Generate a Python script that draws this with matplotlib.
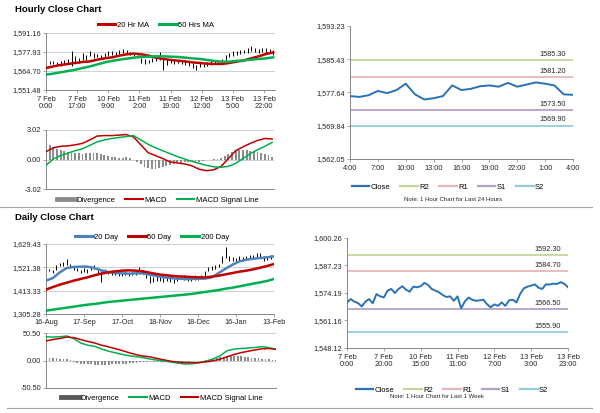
import matplotlib
matplotlib.use("Agg")
import matplotlib.pyplot as plt
from matplotlib.lines import Line2D
from matplotlib.ticker import FuncFormatter
import numpy as np

plt.rcParams["font.family"] = ["Liberation Sans", "DejaVu Sans"]

W, H = 600, 413

# ---- hourly chart, 7 Feb - 14 Feb (bars every 2 hours, lines every 4 hours)
hourly_ticks = ["7 Feb\n0:00", "7 Feb\n17:00", "10 Feb\n9:00", "11 Feb\n2:00",
                "11 Feb\n19:00", "12 Feb\n12:00", "13 Feb\n5:00", "13 Feb\n22:00"]
hourly_high = [1572.6, 1571.9, 1571.4, 1570.7, 1571.9, 1572.6, 1573.1, 1578.4, 1574.9, 1573.8,
               1577.2, 1576.1, 1578.4, 1577.2, 1576.8, 1576.1, 1577.2, 1578.4, 1578.4, 1577.7,
               1579.1, 1580.3, 1579.6, 1577.9, 1577.2, 1576.1, 1573.8, 1573.1, 1572.6, 1573.8,
               1574.5, 1577.9, 1573.8, 1573.1, 1572.6, 1572.1, 1572.6, 1571.9, 1571.4, 1570.7,
               1570.3, 1569.1, 1570.3, 1569.8, 1570.7, 1571.4, 1571.9, 1571.4, 1573.1, 1576.1,
               1577.2, 1578.4, 1578.4, 1579.1, 1579.6, 1580.7, 1581.9, 1580.7, 1580.0, 1580.7,
               1580.7, 1580.0, 1579.1]
hourly_low = [1569.1, 1569.8, 1569.6, 1568.0, 1568.4, 1569.8, 1570.3, 1568.0, 1570.3, 1570.3,
              1572.6, 1572.6, 1574.9, 1573.8, 1574.5, 1573.1, 1574.5, 1575.4, 1576.1, 1575.6,
              1576.5, 1577.2, 1576.8, 1575.8, 1575.4, 1574.5, 1570.3, 1569.8, 1570.3, 1570.7,
              1571.4, 1572.6, 1565.2, 1569.1, 1570.3, 1569.8, 1570.3, 1569.6, 1569.1, 1568.4,
              1566.8, 1565.2, 1567.5, 1567.3, 1568.4, 1569.1, 1569.8, 1569.8, 1570.3, 1572.6,
              1574.5, 1575.4, 1576.1, 1576.8, 1577.2, 1577.2, 1578.4, 1577.7, 1577.2, 1577.7,
              1577.2, 1577.2, 1576.1]
hourly_ma20 = [1566.8, 1567.9, 1568.9, 1569.6, 1570.3, 1571.0, 1571.4, 1572.6, 1573.5, 1574.2,
               1575.4, 1576.3, 1576.8, 1576.3, 1575.4, 1574.0, 1573.1, 1572.4, 1571.9, 1571.4,
               1570.7, 1570.3, 1569.8, 1569.6, 1569.6, 1570.3, 1571.2, 1572.1, 1573.5, 1574.9,
               1576.5, 1577.7]
hourly_ma50 = [1562.2, 1562.9, 1563.8, 1564.7, 1565.6, 1566.8, 1567.9, 1569.3, 1570.7, 1571.7,
               1572.6, 1573.3, 1574.0, 1574.5, 1574.7, 1574.9, 1574.9, 1574.7, 1574.5, 1574.0,
               1573.5, 1573.1, 1572.4, 1571.7, 1571.2, 1571.2, 1571.7, 1572.1, 1572.6, 1573.1,
               1573.5, 1574.2]
hourly_div = [1.5, 1.5, 1.3, 1.1, 1.0, 0.9, 0.8, 0.7, 0.7, 0.65,
              0.6, 0.65, 0.7, 0.7, 0.65, 0.55, 0.45, 0.35, 0.3, 0.25,
              0.2, 0.2, 0.25, 0.15, 0.0, -0.25, -0.5, -0.75, -0.9, -1.0,
              -0.95, -0.85, -0.75, -0.65, -0.55, -0.45, -0.4, -0.35, -0.3, -0.25,
              -0.25, -0.3, -0.3, -0.2, -0.1, 0.0, 0.05, 0.1, 0.2, 0.4,
              0.6, 0.8, 0.9, 1.0, 1.0, 0.95, 0.9, 0.85, 0.8, 0.7,
              0.6, 0.5, 0.3]
hourly_macd = [0.8, 1.2, 1.35, 1.4, 1.5, 1.65, 2.0, 2.4, 2.45, 2.45,
               2.5, 2.55, 2.3, 1.5, 0.7, 0.4, 0.1, -0.25, -0.35, -0.45,
               -0.65, -1.0, -1.15, -1.05, -0.7, 0.1, 0.9, 1.3, 1.65, 1.95,
               2.15, 2.1]
hourly_signal = [-0.6, 0.05, 0.4, 0.65, 0.9, 1.1, 1.45, 1.8, 2.0, 2.15,
                 2.25, 2.35, 2.45, 2.0, 1.55, 1.2, 0.9, 0.6, 0.3, 0.05,
                 -0.2, -0.4, -0.6, -0.75, -0.8, -0.7, -0.4, 0.1, 0.6, 1.0,
                 1.35, 1.75]

# ---- last 24 hours
day_ticks = ["4:00", "7:00", "10:00", "13:00", "16:00", "19:00", "22:00", "1:00", "4:00"]
day_close = [1576.8, 1576.6, 1577.0, 1578.0, 1577.5, 1578.2, 1579.7, 1577.2, 1576.0, 1576.3,
             1576.8, 1579.3, 1578.2, 1578.5, 1579.1, 1579.3, 1579.0, 1579.9, 1579.0, 1579.5,
             1580.0, 1579.7, 1579.3, 1577.2, 1577.1]
day_levels = {"R2": 1585.30, "R1": 1581.20, "S1": 1573.50, "S2": 1569.90}

# ---- daily chart, 16 Aug - 13 Feb (bars every 2 days, lines every 4 days)
daily_ticks = ["16-Aug", "17-Sep", "17-Oct", "18-Nov", "18-Dec", "16-Jan", "13-Feb"]
daily_high = [1529.1, 1515.2, 1510.6, 1533.7, 1541.4, 1546.1, 1561.5, 1536.8, 1526.0, 1518.3,
              1510.6, 1518.3, 1515.2, 1526.0, 1530.6, 1510.6, 1502.9, 1515.2, 1505.9, 1502.9,
              1502.9, 1499.8, 1495.1, 1502.9, 1495.1, 1499.8, 1502.9, 1521.4, 1510.6, 1495.1,
              1479.7, 1475.1, 1479.7, 1475.1, 1472.0, 1479.7, 1475.1, 1468.9, 1479.7, 1487.4,
              1484.3, 1479.7, 1475.1, 1484.3, 1479.7, 1487.4, 1502.9, 1521.4, 1526.0, 1530.6,
              1536.8, 1572.3, 1614.0, 1572.3, 1567.7, 1564.6, 1572.3, 1567.7, 1572.3, 1580.0,
              1577.0, 1587.8, 1587.8, 1572.3, 1572.3, 1577.0, 1577.0]
daily_low = [1510.6, 1502.9, 1495.1, 1510.6, 1526.0, 1526.0, 1533.7, 1518.3, 1510.6, 1502.9,
             1495.1, 1499.8, 1495.1, 1510.6, 1515.2, 1490.5, 1453.5, 1495.1, 1490.5, 1487.4,
             1484.3, 1479.7, 1479.7, 1484.3, 1479.7, 1484.3, 1487.4, 1499.8, 1490.5, 1472.0,
             1448.8, 1453.5, 1459.6, 1456.5, 1453.5, 1459.6, 1453.5, 1448.8, 1459.6, 1468.9,
             1464.3, 1459.6, 1459.6, 1464.3, 1464.3, 1472.0, 1479.7, 1502.9, 1510.6, 1515.2,
             1521.4, 1541.4, 1564.6, 1552.3, 1549.2, 1549.2, 1552.3, 1552.3, 1556.9, 1561.5,
             1561.5, 1567.7, 1564.6, 1552.3, 1556.9, 1561.5, 1564.6]
daily_ma20 = [1459.6, 1472.0, 1498.2, 1518.3, 1522.9, 1524.5, 1524.5, 1518.3, 1507.5, 1499.8,
              1495.1, 1493.6, 1492.1, 1493.6, 1493.6, 1487.4, 1481.2, 1475.1, 1472.0, 1468.9,
              1467.4, 1467.4, 1468.9, 1468.9, 1475.1, 1495.1, 1515.2, 1533.7, 1549.2, 1556.9,
              1561.5, 1564.6, 1567.7, 1572.3]
daily_ma50 = [1418.0, 1430.3, 1441.1, 1450.4, 1459.6, 1467.4, 1475.1, 1484.3, 1492.1, 1498.2,
              1502.9, 1505.9, 1507.5, 1505.9, 1502.9, 1496.7, 1490.5, 1485.9, 1482.8, 1479.7,
              1478.2, 1476.6, 1475.1, 1475.1, 1478.2, 1482.8, 1489.0, 1495.1, 1501.3, 1505.9,
              1512.1, 1519.8, 1527.6, 1536.8]
daily_ma200 = [1320.7, 1325.3, 1329.9, 1334.6, 1339.2, 1343.9, 1348.5, 1351.6, 1356.2, 1360.8,
               1363.9, 1367.0, 1370.1, 1373.2, 1376.3, 1379.4, 1382.5, 1385.5, 1388.6, 1391.7,
               1394.8, 1397.9, 1402.5, 1407.2, 1411.8, 1416.4, 1422.6, 1427.2, 1433.4, 1439.6,
               1445.8, 1451.9, 1458.1, 1467.4]
daily_div = [5, 5, 4.5, 4, 3.5, 3, 2.5, 1,
             -3, -5, -6, -7, -7, -7, -7.5, -8, -8, -8, -7.5, -7, -7, -7, -6.5, -6, -5, -4.5,
             -4, -3, -2.5, -2,
             -2, -2, -2.5, -2.5, -2, -2, -2.5, -2.5, -3, -3, -2.5, -2, -1.5, -1, -0.5, 0,
             1, 2, 3.5, 5, 6, 7, 8, 8.5, 8.5, 8, 7.5, 7, 6, 5.5, 5, 4, 3, 2.5, 2, 1, 0.5]
daily_macd = [43.6, 43.0, 43.6, 45.0, 40.0, 32.0, 28.0, 26.0, 21.0, 17.0,
              14.0, 11.0, 8.5, 7.0, 5.0, 2.5, 0.5, -1.0, -3.0, -5.0,
              -6.5, -6.0, -4.0, -1.0, 3.0, 9.0, 18.0, 21.0, 22.0, 23.0,
              24.0, 25.5, 23.5, 20.5]
daily_signal = [36.0, 38.5, 40.5, 43.0, 42.0, 38.5, 35.0, 32.0, 28.0, 25.0,
                21.5, 18.0, 14.0, 10.5, 8.0, 6.5, 3.5, 1.0, -1.5, -3.0,
                -3.8, -4.0, -3.8, -2.5, -0.5, 2.5, 7.0, 11.0, 14.5, 17.0,
                19.5, 21.5, 22.0, 20.5]

# ---- last week, hourly close (every 2 hours)
week_ticks = ["7 Feb\n0:00", "7 Feb\n20:00", "10 Feb\n15:00", "11 Feb\n11:00",
              "12 Feb\n7:00", "13 Feb\n3:00", "13 Feb\n23:00"]
week_close = [1569.7, 1571.3, 1570.1, 1569.4, 1567.8, 1570.1, 1571.3, 1569.3, 1573.7, 1572.6,
              1572.1, 1575.3, 1576.1, 1574.2, 1576.1, 1577.4, 1575.8, 1574.8, 1577.2, 1576.9,
              1577.4, 1579.0, 1578.0, 1576.1, 1575.3, 1574.5, 1573.2, 1572.3, 1572.6, 1570.5,
              1572.6, 1566.9, 1570.2, 1572.0, 1571.0, 1570.5, 1570.7, 1571.0, 1568.9, 1567.4,
              1568.8, 1568.1, 1569.7, 1568.1, 1570.7, 1571.0, 1569.7, 1573.7, 1576.4, 1577.2,
              1577.7, 1578.3, 1576.7, 1576.1, 1578.3, 1578.2, 1578.6, 1578.5, 1579.3, 1578.6,
              1576.9]
week_levels = {"R2": 1592.30, "R1": 1584.70, "S1": 1566.50, "S2": 1555.90}

RED = "#c00000"
GREEN = "#00b050"
BLUE = "#4f81bd"
CLOSE = "#2a72b5"
GRAY = "#8c8c8c"
LEVEL_COLORS = {"R2": "#c4d79b", "R1": "#e6b9b8", "S1": "#b3a2c7", "S2": "#93cddd"}
AXIS = "#868686"
GRID = "#c8c8c8"
TEXT = "#262626"
FS = 5.3

money = FuncFormatter(lambda v, p: f"{v:,.2f}")


def px_axes(fig, left, top, right, bottom):
    return fig.add_axes([left / W, 1 - bottom / H, (right - left) / W, (bottom - top) / H])


def style(ax, grid=True):
    for s in ("top", "right"):
        ax.spines[s].set_visible(False)
    for s in ("left", "bottom"):
        ax.spines[s].set_color(AXIS)
        ax.spines[s].set_linewidth(0.7)
    ax.tick_params(labelsize=FS, colors=AXIS, labelcolor=TEXT, length=2, width=0.5, pad=1.5)
    if grid:
        ax.yaxis.grid(True, color=GRID, linewidth=0.6)
        ax.set_axisbelow(True)


def legend(fig, handles, labels, cx, cy, **kw):
    fig.legend(handles, labels, loc="center", bbox_to_anchor=(cx / W, 1 - cy / H),
               ncol=len(labels), frameon=False, fontsize=5.5, handlelength=2.3,
               handletextpad=0.2, columnspacing=1.3, borderaxespad=0, **kw)


def line(c, lw):
    return Line2D([], [], color=c, linewidth=lw)


def level_chart(ax, x, close, levels, xlim, ticks, labels, yticks):
    ax.plot(x, close, color=CLOSE, linewidth=1.4, zorder=3)
    for name, val in levels.items():
        ax.axhline(val, color=LEVEL_COLORS[name], linewidth=1.3, zorder=2)
        ax.annotate(f"{val:.2f}", xy=(xlim[1], val), xytext=(-5, 1.5),
                    textcoords="offset points", ha="right", va="bottom",
                    fontsize=FS, color=TEXT)
    ax.set_xlim(*xlim)
    ax.set_ylim(yticks[0], yticks[-1])
    ax.set_yticks(yticks)
    ax.yaxis.set_major_formatter(money)
    ax.set_xticks(ticks)
    ax.set_xticklabels(labels, linespacing=1.05)
    style(ax, grid=False)
    ax.tick_params(axis="x", pad=2.5)


fig = plt.figure(figsize=(W / 100, H / 100), dpi=100)

# separators
fig.add_artist(Line2D([0, 592 / W], [1 - 207 / H] * 2, color="#a6a6a6", linewidth=0.8))
fig.add_artist(Line2D([7 / W, 592 / W], [1 - 408 / H] * 2, color="#a6a6a6", linewidth=0.8))

fig.text(15 / W, 1 - 9 / H, "Hourly Close Chart", fontsize=6.8, weight="bold", va="center")
fig.text(15 / W, 1 - 217 / H, "Daily Close Chart", fontsize=6.8, weight="bold", va="center")

# ---- hourly price
ax = px_axes(fig, 46, 33, 275, 90)
hb = np.arange(len(hourly_high)) * 2
hl = np.arange(len(hourly_ma20)) * 4
ax.vlines(hb, hourly_low, hourly_high, color="black", linewidth=0.7, zorder=2)
ax.plot(hl, hourly_ma20, color=RED, linewidth=1.8, zorder=3)
ax.plot(hl, hourly_ma50, color=GREEN, linewidth=1.8, zorder=3)
ax.set_xlim(0, 125)
ax.set_ylim(1551.48, 1591.16)
ax.set_yticks([1551.48, 1564.70, 1577.93, 1591.16])
ax.yaxis.set_major_formatter(money)
ax.set_xticks(np.arange(len(hourly_ticks)) * 17)
ax.set_xticklabels(hourly_ticks, linespacing=1.05)
style(ax)
ax.tick_params(axis="x", pad=2)
legend(fig, [line(RED, 2.2), line(GREEN, 2.2)], ["20 Hr MA", "50 Hrs MA"], 156, 25)

# ---- hourly MACD
ax = px_axes(fig, 46, 130, 274, 189)
ax.bar(hb, hourly_div, width=1.0, color=GRAY, zorder=2)
ax.plot(hl, hourly_macd, color=RED, linewidth=1.1, zorder=3)
ax.plot(hl, hourly_signal, color=GREEN, linewidth=1.1, zorder=3)
ax.set_xlim(0, 125)
ax.set_ylim(-3.02, 3.02)
ax.set_yticks([-3.02, 0.0, 3.02])
ax.yaxis.set_major_formatter(FuncFormatter(lambda v, p: f"{v:.2f}"))
ax.set_xticks([])
style(ax)
legend(fig, [line(GRAY, 3.5), line(RED, 1.5), line(GREEN, 1.5)],
       ["Divergence", "MACD", "MACD Signal Line"], 158, 200)

# ---- last 24 hours
ax = px_axes(fig, 350, 26, 573, 159)
level_chart(ax, np.arange(len(day_close)), day_close, day_levels, (0, 24),
            np.arange(len(day_ticks)) * 3, day_ticks,
            [1562.05, 1569.84, 1577.64, 1585.43, 1593.23])
names = ["Close"] + list(day_levels)
legend(fig, [line(CLOSE, 1.6)] + [line(LEVEL_COLORS[n], 1.6) for n in day_levels],
       names, 448, 187)
fig.text(453 / W, 1 - 200 / H, "Note: 1 Hour Chart for Last 24 Hours", fontsize=4.3,
         ha="center", va="center", color=TEXT)

# ---- daily price
ax = px_axes(fig, 46, 244, 274, 314)
db = np.arange(len(daily_high)) * 2
dl = np.arange(len(daily_ma20)) * 4
ax.vlines(db, daily_low, daily_high, color="black", linewidth=0.7, zorder=2)
ax.plot(dl, daily_ma20, color=BLUE, linewidth=1.8, zorder=3)
ax.plot(dl, daily_ma50, color=RED, linewidth=1.8, zorder=3)
ax.plot(dl, daily_ma200, color=GREEN, linewidth=1.8, zorder=3)
ax.set_xlim(0, 132)
ax.set_ylim(1305.28, 1629.43)
ax.set_yticks([1305.28, 1413.33, 1521.38, 1629.43])
ax.yaxis.set_major_formatter(money)
ax.set_xticks(np.arange(len(daily_ticks)) * 22)
ax.set_xticklabels(daily_ticks)
style(ax)
ax.tick_params(axis="x", pad=1.5)
legend(fig, [line(BLUE, 2.2), line(RED, 2.2), line(GREEN, 2.2)],
       ["20 Day", "50 Day", "200 Day"], 152, 237)

# ---- daily MACD
ax = px_axes(fig, 46, 333, 276, 388)
ax.bar(db, daily_div, width=1.0, color=GRAY, zorder=2)
ax.plot(dl, daily_macd, color=GREEN, linewidth=1.1, zorder=3)
ax.plot(dl, daily_signal, color=RED, linewidth=1.1, zorder=3)
ax.set_xlim(0, 132)
ax.set_ylim(-50.5, 50.5)
ax.set_yticks([-50.5, 0.0, 50.5])
ax.yaxis.set_major_formatter(FuncFormatter(lambda v, p: f"{v:.2f}"))
ax.set_xticks([])
style(ax)
legend(fig, [line("#595959", 3.5), line(GREEN, 1.5), line(RED, 1.5)],
       ["Divergence", "MACD", "MACD Signal Line"], 162, 398)

# ---- last week
ax = px_axes(fig, 347, 238, 568, 348)
level_chart(ax, np.arange(len(week_close)) * 2, week_close, week_levels, (0, 120),
            np.arange(len(week_ticks)) * 20, week_ticks,
            [1548.12, 1561.16, 1574.19, 1587.23, 1600.26])
legend(fig, [line(CLOSE, 1.6)] + [line(LEVEL_COLORS[n], 1.6) for n in week_levels],
       names, 452, 390)
fig.text(437 / W, 1 - 397 / H, "Note: 1 Hour Chart for Last 1 Week", fontsize=4.3,
         ha="center", va="center", color=TEXT)

fig.savefig("out.png", dpi=100)
